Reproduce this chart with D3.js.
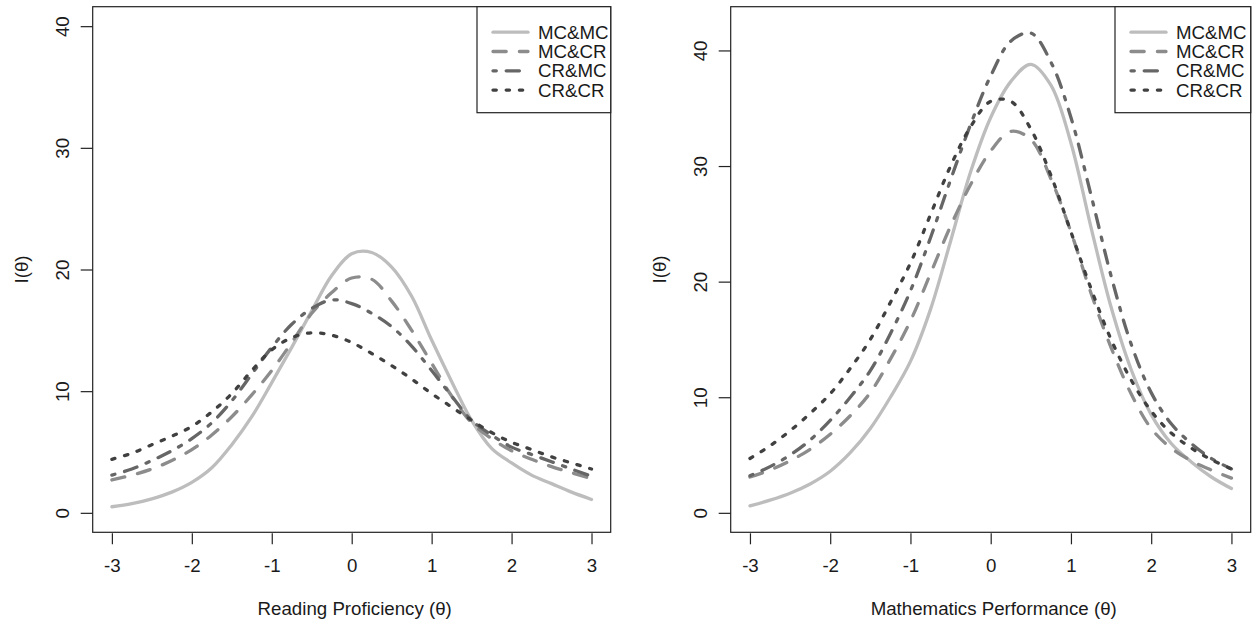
<!DOCTYPE html>
<html>
<head>
<meta charset="utf-8">
<script src="https://cdn.jsdelivr.net/npm/d3@7"></script>
<style>
  html, body { margin: 0; padding: 0; background: #fff; }
  svg { display: block; }
  text { font-family: "Liberation Sans", Arial, Helvetica, sans-serif; fill: #1a1a1a; }
</style>
</head>
<body>
<svg id="chart" width="1257" height="627"></svg>
<script>
// ---------------- data ----------------
const theta = [-3, -2.75, -2.5, -2.25, -2, -1.75, -1.5, -1.25, -1, -0.75, -0.5, -0.25, 0,
               0.25, 0.5, 0.75, 1, 1.25, 1.5, 1.75, 2, 2.25, 2.5, 2.75, 3];
const seriesNames = ["MC&MC", "MC&CR", "CR&MC", "CR&CR"];
const xTicks = [-3, -2, -1, 0, 1, 2, 3];
const yTicks = [0, 10, 20, 30, 40];

// Reading Proficiency panel
const readingMCMC = [0.5, 0.75, 1.15, 1.7, 2.5, 3.7, 5.6, 7.9, 10.7, 13.6, 16.6, 19.5, 21.3,
                     21.4, 20.2, 17.8, 14.2, 10.8, 7.6, 5.3, 4.1, 3.1, 2.4, 1.7, 1.1];
const readingMCCR = [2.7, 3.1, 3.6, 4.3, 5.2, 6.4, 7.9, 9.7, 11.7, 14.0, 16.4, 18.1, 19.3,
                     19.2, 17.4, 15.0, 12.3, 9.6, 7.4, 6.1, 5.1, 4.4, 3.8, 3.3, 2.8];
const readingCRMC = [3.1, 3.6, 4.3, 5.1, 6.1, 7.4, 9.2, 11.4, 13.6, 15.5, 16.8, 17.5, 17.2,
                     16.4, 15.3, 13.7, 11.7, 9.6, 7.6, 6.4, 5.4, 4.8, 4.2, 3.6, 3.0];
const readingCRCR = [4.4, 4.9, 5.6, 6.3, 7.1, 8.3, 9.8, 11.7, 13.4, 14.4, 14.8, 14.6, 14.0,
                     13.1, 12.1, 11.0, 9.8, 8.7, 7.6, 6.6, 5.8, 5.2, 4.6, 4.1, 3.6];

// Mathematics Performance panel
const mathMCMC = [0.6, 1.1, 1.7, 2.5, 3.6, 5.2, 7.3, 10.0, 13.1, 17.6, 23.5, 29.5, 34.2,
                  37.3, 38.8, 37.0, 32.0, 24.7, 17.8, 12.4, 8.5, 6.0, 4.4, 3.1, 2.1];
const mathMCCR = [3.1, 3.7, 4.5, 5.5, 6.8, 8.4, 10.4, 13.3, 16.6, 20.7, 24.8, 28.4, 31.3,
                  33.0, 32.3, 28.9, 24.3, 19.0, 14.3, 10.3, 7.3, 5.6, 4.5, 3.7, 3.0];
const mathCRMC = [3.2, 4.0, 5.0, 6.3, 8.0, 10.0, 12.3, 15.5, 19.2, 23.8, 28.8, 33.6, 37.8,
                  40.8, 41.5, 39.0, 34.2, 27.5, 20.5, 14.6, 10.4, 7.7, 6.0, 4.7, 3.8];
const mathCRCR = [4.7, 5.8, 7.1, 8.6, 10.3, 12.5, 15.0, 18.2, 21.6, 25.8, 30.0, 33.4, 35.6,
                  35.6, 33.2, 29.2, 24.3, 19.4, 15.0, 11.5, 8.8, 6.9, 5.6, 4.6, 3.8];

const xLim = [-3, 3];
const readingYLim = [0, 40];
const mathYLim = [0, 42.1];

// ---------------- styles ----------------
const LW = 3.3;
const FS = 18.7;
const styles = [
  { color: "#bdbdbd", dash: null },
  { color: "#8c8c8c", dash: [4, 4] },
  { color: "#666666", dash: [1, 3, 4, 3] },
  { color: "#404040", dash: [1, 3] }
];
function dashStr(d) { return d ? d.map(v => v * LW).join(",") : null; }

const svg = d3.select("#chart");

function panel(opts) {
  const { left, right, top, bottom, yLim, series, xTitle, legendLeft } = opts;
  const xPad = (xLim[1] - xLim[0]) * 0.04;
  const yPad = (yLim[1] - yLim[0]) * 0.04;
  const x = d3.scaleLinear().domain([xLim[0] - xPad, xLim[1] + xPad]).range([left, right]);
  const y = d3.scaleLinear().domain([yLim[0] - yPad, yLim[1] + yPad]).range([bottom, top]);
  const g = svg.append("g");

  // curves
  const line = d3.line().curve(d3.curveCatmullRom.alpha(0.5)).x(d => x(d[0])).y(d => y(d[1]));
  series.forEach((vals, i) => {
    const pts = theta.map((t, k) => [t, vals[k]]);
    g.append("path")
      .attr("d", line(pts))
      .attr("fill", "none")
      .attr("stroke", styles[i].color)
      .attr("stroke-width", LW)
      .attr("stroke-linecap", "round")
      .attr("stroke-linejoin", "round")
      .attr("stroke-dasharray", dashStr(styles[i].dash));
  });

  // box
  g.append("rect")
    .attr("x", left).attr("y", top)
    .attr("width", right - left).attr("height", bottom - top)
    .attr("fill", "none").attr("stroke", "#222").attr("stroke-width", 1.2);

  // x axis
  const xAxis = d3.axisBottom(x).tickValues(xTicks).tickSize(11).tickPadding(14);
  const xg = g.append("g").attr("transform", `translate(0,${bottom + 1})`).call(xAxis);
  xg.select(".domain").remove();
  xg.selectAll("line").attr("stroke", "#222").attr("stroke-width", 1.2);
  xg.selectAll("text").attr("font-size", FS).attr("fill", "#1a1a1a")
    .style("font-family", "'Liberation Sans', Arial, sans-serif")
    .text(d => d < 0 ? "-" + Math.abs(d) : String(d));

  // y axis
  const yAxis = d3.axisLeft(y).tickValues(yTicks).tickSize(12);
  const yg = g.append("g").attr("transform", `translate(${left},0)`).call(yAxis);
  yg.select(".domain").remove();
  yg.selectAll("line").attr("stroke", "#222").attr("stroke-width", 1.2);
  yg.selectAll("text")
    .attr("font-size", FS).attr("fill", "#1a1a1a")
    .style("font-family", "'Liberation Sans', Arial, sans-serif")
    .attr("x", 0).attr("y", 0).attr("dy", null)
    .attr("text-anchor", "middle")
    .attr("transform", "translate(-24,0) rotate(-90)");

  // titles
  g.append("text")
    .attr("x", (left + right) / 2 + 3).attr("y", bottom + 82.5)
    .attr("text-anchor", "middle").attr("font-size", FS)
    .text(xTitle);
  g.append("text")
    .attr("transform", `translate(${left - 65},${(top + bottom) / 2}) rotate(-90)`)
    .attr("text-anchor", "middle").attr("font-size", FS)
    .text("I(θ)");

  // legend
  const lg = g.append("g");
  const lgTop = top, lgBottom = top + 106;
  lg.append("rect")
    .attr("x", legendLeft).attr("y", lgTop)
    .attr("width", right - legendLeft).attr("height", lgBottom - lgTop)
    .attr("fill", "#fff").attr("stroke", "#222").attr("stroke-width", 1.2);
  seriesNames.forEach((name, i) => {
    const yy = lgTop + 25.5 + i * 19.3;
    lg.append("line")
      .attr("x1", legendLeft + 16).attr("x2", legendLeft + 51)
      .attr("y1", yy).attr("y2", yy)
      .attr("stroke", styles[i].color).attr("stroke-width", LW)
      .attr("stroke-linecap", "round")
      .attr("stroke-dasharray", dashStr(styles[i].dash));
    lg.append("text")
      .attr("x", legendLeft + 61).attr("y", yy)
      .attr("dy", "0.35em").attr("font-size", FS)
      .text(name);
  });
}

panel({ left: 92.7, right: 610.7, top: 6.7, bottom: 532.3, yLim: readingYLim,
        series: [readingMCMC, readingMCCR, readingCRMC, readingCRCR],
        xTitle: "Reading Proficiency (θ)", legendLeft: 477 });
panel({ left: 730.7, right: 1250.7, top: 6.7, bottom: 532.3, yLim: mathYLim,
        series: [mathMCMC, mathMCCR, mathCRMC, mathCRCR],
        xTitle: "Mathematics Performance (θ)", legendLeft: 1115 });
</script>
</body>
</html>
